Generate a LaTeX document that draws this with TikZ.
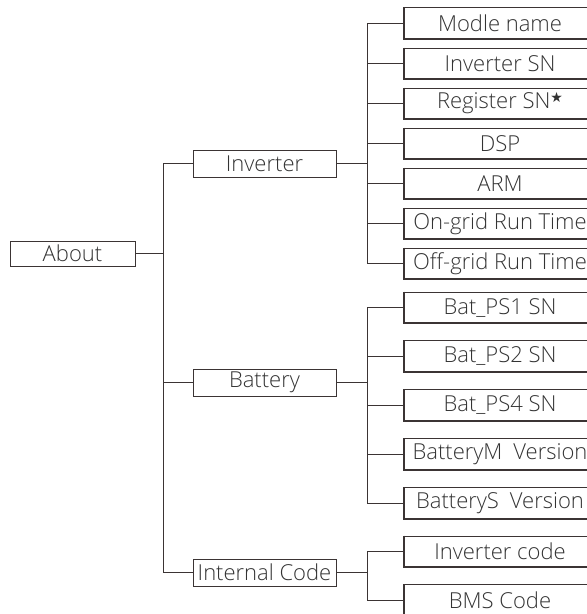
\documentclass[tikz,border=0pt]{standalone}
\usepackage{fontspec}
\setmainfont{Open Sans}[UprightFont=* Light]
\newfontfamily\symfont{DejaVu Sans}
\definecolor{ln}{HTML}{3B3434}
\definecolor{tx}{HTML}{333333}
\begin{document}
\begin{tikzpicture}[x=1pt,y=-1pt,
  box/.style={draw=ln, line width=0.9pt, text=tx, font=\fontsize{22}{26}\selectfont, inner sep=0pt, minimum height=27pt, anchor=center},
  mid/.style={box, minimum width=143pt},
  leaf/.style={box, minimum width=192pt, minimum height=31pt},
  heavy/.style={draw=ln, line width=2pt},
  conn/.style={draw=ln, line width=0.9pt}]
\useasboundingbox (0,0) rectangle (587,614);
\node[box, minimum width=125pt, minimum height=25pt] (about) at (72.5,253.5) {About};
\node[mid] (inv) at (264.5,163.5) {Inverter};
\node[mid] (bat) at (264.5,382.5) {Battery};
\node[mid] (ic) at (264.5,572.5) {Internal Code};
% leaves
\node[leaf] (m1) at (500,23) {Modle name};
\node[leaf] (m2) at (500,63.5) {Inverter SN};
\node[leaf] (m3) at (500,103.5) {Register SN{\symfont\fontsize{14}{14}\selectfont\raisebox{6pt}{★}}};
\node[leaf] (m4) at (500,143.5) {DSP};
\node[leaf] (m5) at (500,183.5) {ARM};
\node[leaf] (m6) at (500,223.5) {On-grid Run Time};
\node[leaf] (m7) at (500,263.5) {Off-grid Run Time};
\node[leaf] (b1) at (500,307.5) {Bat\_PS1 SN};
\node[leaf] (b2) at (500,356) {Bat\_PS2 SN};
\node[leaf] (b3) at (500,405) {Bat\_PS4 SN};
\node[leaf] (b4) at (500,454) {BatteryM\hspace{0.5em}Version};
\node[leaf] (b5) at (500,503) {BatteryS\hspace{0.5em}Version};
\node[leaf] (c1) at (500,551.5) {Inverter code};
\node[leaf] (c2) at (500,600) {BMS Code};
\foreach \n in {m1,m2,m3,m4,m5,m6,m7,b1,b2,b3,b4,b5,c1,c2}
  \draw[heavy] (\n.north west) -- (\n.south west) -- (\n.south east);
% level 1
\draw[conn] (about.east) -- ++(29,0);
\draw[conn] (inv.west) -- ++(-29,0) |- (ic.west);
\draw[conn] (bat.west) -- ++(-29,0);
% inverter
\draw[conn] (inv.east) -- ++(32,0);
\draw[conn] (m1.west) -- ++(-36,0) |- (m7.west);
\foreach \n in {m2,m3,m4,m5,m6}
  \draw[conn] (\n.west) -- ++(-36,0);
% battery
\draw[conn] (bat.east) -- ++(32,0);
\draw[conn] (b1.west) -- ++(-36,0) |- (b5.west);
\foreach \n in {b2,b3,b4}
  \draw[conn] (\n.west) -- ++(-36,0);
% internal code
\draw[conn] (ic.east) -- ++(32,0);
\draw[conn] (c1.west) -- ++(-36,0) |- (c2.west);
\end{tikzpicture}
\end{document}
